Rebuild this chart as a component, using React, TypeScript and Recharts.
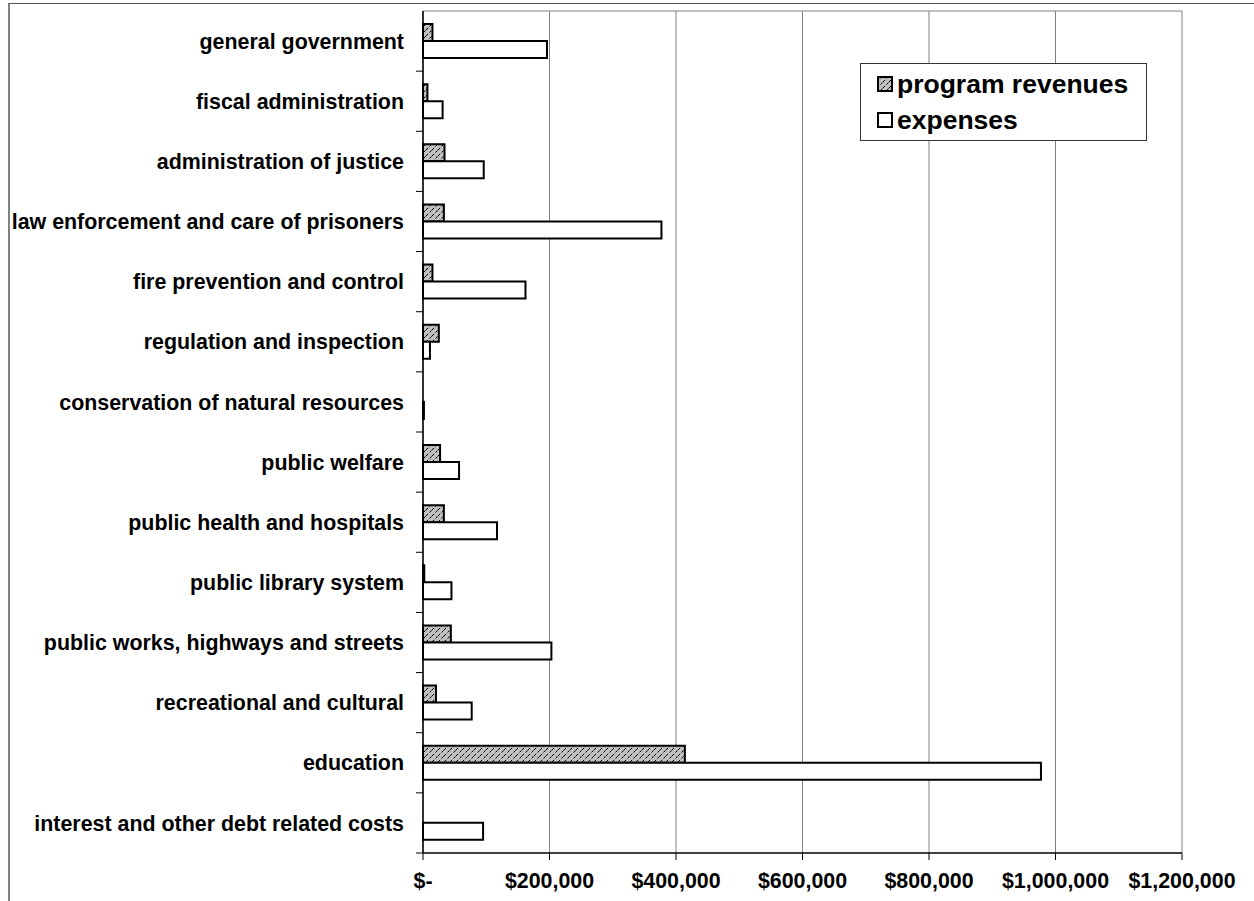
import { BarChart, Bar, XAxis, YAxis, CartesianGrid, Legend } from 'recharts';

const categories = [
  'general government',
  'fiscal administration',
  'administration of justice',
  'law enforcement and care of prisoners',
  'fire prevention and control',
  'regulation and inspection',
  'conservation of natural resources',
  'public welfare',
  'public health and hospitals',
  'public library system',
  'public works, highways and streets',
  'recreational and cultural',
  'education',
  'interest and other debt related costs',
];

const programRevenues = [15000, 7000, 34000, 33000, 15000, 25000, 0, 27000, 33000, 2000, 44000, 20500, 414000, 0];
const expenses = [196000, 31000, 96000, 377000, 162000, 11000, 1500, 57000, 117000, 45000, 203000, 77000, 977000, 95000];

const xTicks = [0, 200000, 400000, 600000, 800000, 1000000, 1200000];
const seriesOrder = ['program revenues', 'expenses'];

const data = categories.map((name, i) => ({
  name,
  revenues: programRevenues[i],
  expenses: expenses[i],
}));

const W = 1254;
const H = 901;
const margin = { top: 11, right: 72, bottom: 0, left: 0 };
const xAxisHeight = 48;
const halfBand = (H - margin.top - margin.bottom - xAxisHeight) / categories.length / 2;
const font = '"Liberation Sans", Arial, sans-serif';

const fmtMoney = (v: number) => (v === 0 ? '$-' : '$' + v.toLocaleString('en-US'));

function CategoryTick(props: any) {
  const { x, y, payload } = props;
  return (
    <g>
      <text x={x} y={y} dy="0.355em" textAnchor="end" fontFamily={font} fontWeight="bold" fontSize={21.4} fill="#000">
        {payload.value}
      </text>
      <line x1={x + 12} x2={x + 19} y1={y + halfBand} y2={y + halfBand} stroke="#000" strokeWidth={1} />
    </g>
  );
}

function LegendBox(props: any) {
  const items = [...(props.payload || [])].sort(
    (a: any, b: any) => seriesOrder.indexOf(a.value) - seriesOrder.indexOf(b.value)
  );
  return (
    <div
      style={{
        width: 285,
        height: 74,
        border: '1px solid #333',
        background: '#fff',
        fontFamily: font,
        fontWeight: 'bold',
        fontSize: 26.5,
        color: '#000',
        paddingTop: 2,
        boxSizing: 'content-box',
      }}
    >
      {items.map((it: any) => (
        <div key={it.value} style={{ display: 'flex', alignItems: 'center', height: 36, paddingLeft: 16 }}>
          <svg width={17} height={17} style={{ marginRight: 3 }}>
            <rect x={1} y={1} width={14} height={14} fill={it.payload.fill} stroke="#000" strokeWidth={2} />
          </svg>
          <span>{it.value}</span>
        </div>
      ))}
    </div>
  );
}

export default function App() {
  return (
    <div style={{ position: 'fixed', inset: 0, overflow: 'hidden', background: '#fff' }}>
      <div
        style={{
          position: 'absolute',
          left: 8,
          top: 3,
          width: 1300,
          height: 950,
          borderLeft: '2px solid #808080',
          borderTop: '1px solid #555',
        }}
      />
      <div style={{ position: 'absolute', left: 0, top: 0 }}>
        <BarChart
          width={W}
          height={H}
          data={data}
          layout="vertical"
          margin={margin}
          barCategoryGap={13}
          barGap={0}
        >
          <defs>
            <pattern id="hatch" width={6} height={6} patternUnits="userSpaceOnUse">
              <rect width={6} height={6} fill="#c0c0c0" />
              <path d="M0,6 L6,0" stroke="#000" strokeWidth={1} strokeDasharray="3 2" />
            </pattern>
          </defs>
          <CartesianGrid
            stroke="#808080"
            strokeWidth={1}
            horizontalCoordinatesGenerator={(p: any) => [p.offset.top]}
          />
          <XAxis
            type="number"
            domain={[0, 1200000]}
            ticks={xTicks}
            tickFormatter={fmtMoney}
            height={xAxisHeight}
            tickSize={7}
            tickMargin={13}
            axisLine={{ stroke: '#000', strokeWidth: 1.5 }}
            tickLine={{ stroke: '#000' }}
            tick={{ fill: '#000', fontSize: 21.4, fontWeight: 'bold', fontFamily: font }}
            interval={0}
          />
          <YAxis
            type="category"
            dataKey="name"
            width={423}
            tickSize={7}
            tickMargin={12}
            tickLine={false}
            axisLine={{ stroke: '#000', strokeWidth: 1.5 }}
            tick={<CategoryTick />}
            interval={0}
          />
          <Legend
            layout="vertical"
            align="center"
            verticalAlign="middle"
            content={<LegendBox />}
            wrapperStyle={{ position: 'absolute', left: 860, top: 63, width: 287, height: 76 }}
          />
          <Bar dataKey="revenues" name="program revenues" fill="url(#hatch)" stroke="#000" strokeWidth={2} isAnimationActive={false} />
          <Bar dataKey="expenses" name="expenses" fill="#fff" stroke="#000" strokeWidth={2} isAnimationActive={false} />
        </BarChart>
      </div>
    </div>
  );
}
